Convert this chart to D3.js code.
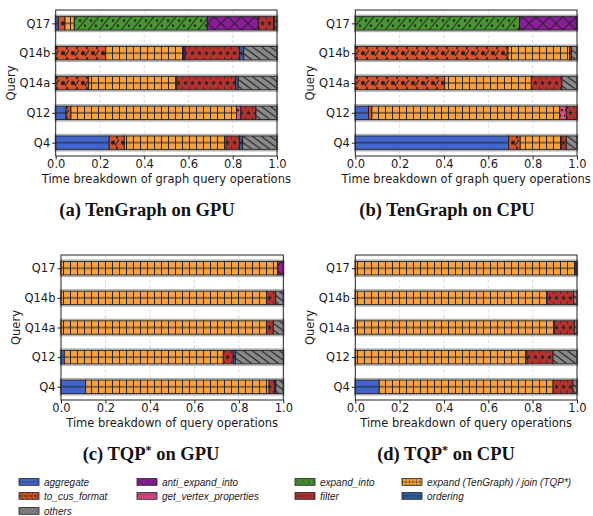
<!DOCTYPE html>
<html>
<head>
<meta charset="utf-8">
<title>Time breakdown</title>
<script src="https://cdn.jsdelivr.net/npm/d3@7"></script>
<style>
  body { margin: 0; background: #fff; }
  svg { display: block; }
</style>
</head>
<body>
<script>
// stacking order of the operations inside each bar
var categories = ['aggregate', 'to_cus_format', 'expand', 'expand_into', 'anti_expand_into',
                  'get_vertex_properties', 'filter', 'ordering', 'others'];
var queries = ['Q4', 'Q12', 'Q14a', 'Q14b', 'Q17'];   // bottom -> top
var xTicks = [0, 0.2, 0.4, 0.6, 0.8, 1.0];

// one row per query, one value per category (fractions)
var tengraphGpu = [
  [0.242, 0.068, 0.460, 0,     0,     0,     0.060, 0.015, 0.155],
  [0.047, 0.022, 0.748, 0,     0,     0.020, 0.068, 0,     0.095],
  [0,     0.149, 0.398, 0,     0,     0,     0.266, 0.012, 0.175],
  [0,     0.226, 0.351, 0,     0.008, 0,     0.246, 0.019, 0.150],
  [0.012, 0.030, 0.042, 0.601, 0.231, 0,     0.068, 0.006, 0.010]
];
var tengraphCpu = [
  [0.692, 0.052, 0.185, 0,     0,     0,     0.023, 0,     0.048],
  [0.060, 0.015, 0.847, 0,     0,     0.030, 0.048, 0,     0],
  [0,     0.403, 0.391, 0,     0,     0,     0.138, 0,     0.068],
  [0,     0.689, 0.278, 0,     0,     0,     0.008, 0,     0.025],
  [0,     0,     0,     0.741, 0.256, 0,     0.003, 0,     0]
];
var tqpGpu = [
  [0.111, 0, 0.825, 0, 0,     0, 0.025, 0.006, 0.033],
  [0.015, 0, 0.715, 0, 0,     0, 0.045, 0.010, 0.215],
  [0,     0, 0.925, 0, 0,     0, 0.030, 0,     0.045],
  [0,     0, 0.925, 0, 0,     0, 0.041, 0,     0.034],
  [0,     0, 0.975, 0, 0.025, 0, 0,     0,     0]
];
var tqpCpu = [
  [0.108, 0, 0.784, 0, 0,     0, 0.090, 0, 0.018],
  [0,     0, 0.774, 0, 0,     0, 0.118, 0, 0.108],
  [0,     0, 0.898, 0, 0,     0, 0.090, 0, 0.012],
  [0,     0, 0.865, 0, 0,     0, 0.120, 0, 0.015],
  [0,     0, 0.995, 0, 0.005, 0, 0,     0, 0]
];

var legendLabels = {
  aggregate: 'aggregate', to_cus_format: 'to_cus_format', others: 'others',
  anti_expand_into: 'anti_expand_into', get_vertex_properties: 'get_vertex_properties',
  expand_into: 'expand_into', filter: 'filter',
  expand: 'expand (TenGraph) / join (TQP*)', ordering: 'ordering'
};
// legend columns as they appear (column-major)
var legendColumns = [
  ['aggregate', 'to_cus_format', 'others'],
  ['anti_expand_into', 'get_vertex_properties'],
  ['expand_into', 'filter'],
  ['expand', 'ordering']
];

var colors = {
  aggregate: '#4066cc', to_cus_format: '#d9542a', expand: '#f5a33a',
  expand_into: '#47972f', anti_expand_into: '#8e1c9c', get_vertex_properties: '#d94f8c',
  filter: '#b3322d', ordering: '#2f5d9e', others: '#8a8a8a'
};

var W = 593, H = 516;
var svg = d3.select('body').append('svg').attr('width', W).attr('height', H);
var defs = svg.append('defs');

var barUnits = 0.45;
var bh = 13.4;     // bar height in px (both rows of panels are about the same)
var hatch = '#222';

function starPath(cx, cy, r1, r2) {
  var pts = [];
  for (var i = 0; i < 10; i++) {
    var a = -Math.PI / 2 + i * Math.PI / 5;
    var r = i % 2 === 0 ? r1 : r2;
    pts.push([cx + r * Math.cos(a), cy + r * Math.sin(a)]);
  }
  return 'M' + pts.join('L') + 'Z';
}

/* hatch patterns, one per category */
function pattern(name, w, draw) {
  var p = defs.append('pattern')
    .attr('id', 'pat-' + name)
    .attr('patternUnits', 'userSpaceOnUse')
    .attr('width', w).attr('height', bh);
  p.append('rect').attr('width', w).attr('height', bh).attr('fill', colors[name]);
  var g = p.append('g').attr('stroke', hatch).attr('stroke-width', 1).attr('fill', 'none');
  draw(g, w);
}

pattern('aggregate', 10, function(g, w) {
  g.append('line').attr('x1', 0).attr('x2', w).attr('y1', bh / 2).attr('y2', bh / 2);
});
pattern('to_cus_format', 10, function(g, w) {
  g.append('circle').attr('cx', 3).attr('cy', bh / 2).attr('r', 1.6).attr('fill', hatch);
  g.append('line').attr('x1', 5).attr('y1', bh / 2 + 3).attr('x2', 9).attr('y2', bh / 2 - 3);
  g.append('circle').attr('cx', 7).attr('cy', 1.5).attr('r', 0.7).attr('fill', hatch);
  g.append('circle').attr('cx', 7).attr('cy', bh - 1.5).attr('r', 0.7).attr('fill', hatch);
});
pattern('expand', 7, function(g, w) {
  g.append('line').attr('x1', 0.5).attr('x2', 0.5).attr('y1', 0).attr('y2', bh);
  g.append('line').attr('x1', 0).attr('x2', w).attr('y1', bh / 2).attr('y2', bh / 2);
});
pattern('expand_into', 11, function(g, w) {
  g.append('line').attr('x1', 0).attr('y1', bh).attr('x2', w).attr('y2', 0);
  g.append('circle').attr('cx', 8).attr('cy', bh * 0.68).attr('r', 0.8).attr('fill', hatch);
  g.append('circle').attr('cx', 3).attr('cy', bh * 0.3).attr('r', 0.8).attr('fill', hatch);
});
pattern('anti_expand_into', bh, function(g, w) {
  g.append('line').attr('x1', 0).attr('y1', 0).attr('x2', w).attr('y2', bh);
  g.append('line').attr('x1', 0).attr('y1', bh).attr('x2', w).attr('y2', 0);
});
pattern('get_vertex_properties', 4, function(g, w) {
  g.append('circle').attr('cx', 2).attr('cy', bh * 0.3).attr('r', 0.7).attr('fill', hatch);
  g.append('circle').attr('cx', 0).attr('cy', bh * 0.7).attr('r', 0.7).attr('fill', hatch);
});
pattern('filter', 7, function(g, w) {
  g.append('path').attr('d', starPath(3.5, bh / 2, 2.7, 1.1)).attr('fill', hatch).attr('stroke', 'none');
  g.append('circle').attr('cx', 0).attr('cy', 1.5).attr('r', 0.6).attr('fill', hatch);
  g.append('circle').attr('cx', 0).attr('cy', bh - 1.5).attr('r', 0.6).attr('fill', hatch);
});
pattern('ordering', 7, function(g, w) {
  g.append('path').attr('d', starPath(3.5, bh / 2, 2.7, 1.1)).attr('fill', hatch).attr('stroke', 'none');
});
pattern('others', 9, function(g, w) {
  g.append('line').attr('x1', 0).attr('y1', 0).attr('x2', 2 * w).attr('y2', bh);
  g.append('line').attr('x1', -w).attr('y1', 0).attr('x2', w).attr('y2', bh);
});

/* panels */
var panels = [
  { data: tengraphGpu, left: 55.7, right: 277, top: 10, bottom: 156,
    xlabel: 'Time breakdown of graph query operations', caption: '(a) TenGraph on GPU', cx: 147, cy: 216 },
  { data: tengraphCpu, left: 355.3, right: 577, top: 10, bottom: 156,
    xlabel: 'Time breakdown of graph query operations', caption: '(b) TenGraph on CPU', cx: 447, cy: 216 },
  { data: tqpGpu, left: 61, right: 283.3, top: 255, bottom: 400,
    xlabel: 'Time breakdown of query operations', caption: '(c) TQP', cx: 151, cy: 460 },
  { data: tqpCpu, left: 355.3, right: 577, top: 255, bottom: 400,
    xlabel: 'Time breakdown of query operations', caption: '(d) TQP', cx: 446, cy: 460 }
];

var tickFont = '"DejaVu Sans", sans-serif';

panels.forEach(function(p) {
  var x = d3.scaleLinear().domain([0, 1]).range([p.left, p.right]);
  var pad = barUnits / 2 + 0.05 * (queries.length - 1 + barUnits);
  var y = d3.scaleLinear().domain([-pad, queries.length - 1 + pad]).range([p.bottom, p.top]);
  var g = svg.append('g');

  // dashed grid
  g.selectAll('.grid').data(xTicks.slice(1, -1)).enter().append('line')
    .attr('x1', function(d) { return x(d); }).attr('x2', function(d) { return x(d); })
    .attr('y1', p.top).attr('y2', p.bottom)
    .attr('stroke', '#d4d4d4').attr('stroke-width', 0.8).attr('stroke-dasharray', '3,2');

  // bars
  queries.forEach(function(q, qi) {
    var row = p.data[qi];
    var segs = [];
    var acc = 0;
    row.forEach(function(v, ci) {
      if (v > 0) segs.push({ cat: categories[ci], x0: acc, x1: acc + v });
      acc += v;
    });
    var bar = g.append('g').attr('transform', 'translate(0,' + (y(qi) - bh / 2) + ')');
    bar.append('rect')
      .attr('x', x(0) - 0.5).attr('y', -1.3)
      .attr('width', x(acc) - x(0) + 1).attr('height', bh + 2.6)
      .attr('fill', 'none').attr('stroke', '#b0b0b0').attr('stroke-width', 1.6);
    bar.selectAll('rect.seg').data(segs).enter().append('rect')
      .attr('class', 'seg')
      .attr('x', function(d) { return x(d.x0); })
      .attr('width', function(d) { return x(d.x1) - x(d.x0); })
      .attr('y', 0).attr('height', bh)
      .attr('fill', function(d) { return 'url(#pat-' + d.cat + ')'; })
      .attr('stroke', '#1e1e1e').attr('stroke-width', 0.9);
  });

  // axes
  var xa = g.append('g').attr('transform', 'translate(0,' + p.bottom + ')')
    .call(d3.axisBottom(x).tickValues(xTicks).tickFormat(d3.format('.1f'))
      .tickSize(3.5).tickSizeOuter(0).tickPadding(0.5));
  var ya = g.append('g').attr('transform', 'translate(' + p.left + ',0)')
    .call(d3.axisLeft(y).tickValues(d3.range(queries.length))
      .tickFormat(function(i) { return queries[i]; })
      .tickSize(3.5).tickSizeOuter(0).tickPadding(2));
  [xa, ya].forEach(function(a) {
    a.select('.domain').remove();
    a.selectAll('text').attr('font-family', tickFont).attr('font-size', '11.5px').attr('fill', '#1a1a1a');
    a.selectAll('line').attr('stroke', '#222');
  });

  g.append('rect')
    .attr('x', p.left).attr('y', p.top)
    .attr('width', p.right - p.left).attr('height', p.bottom - p.top)
    .attr('fill', 'none').attr('stroke', '#222').attr('stroke-width', 1);

  g.append('text')
    .attr('x', (p.left + p.right) / 2).attr('y', p.bottom + 26.8)
    .attr('text-anchor', 'middle')
    .attr('font-family', tickFont).attr('font-size', '11.5px').attr('fill', '#1a1a1a')
    .text(p.xlabel);

  g.append('text')
    .attr('transform', 'translate(' + (p.left - 41) + ',' + (p.top + p.bottom) / 2 + ') rotate(-90)')
    .attr('text-anchor', 'middle')
    .attr('font-family', tickFont).attr('font-size', '11.5px').attr('fill', '#1a1a1a')
    .text('Query');

  // caption
  var cap = svg.append('text')
    .attr('x', p.cx).attr('y', p.cy)
    .attr('text-anchor', 'middle')
    .attr('font-family', '"Liberation Serif", serif').attr('font-weight', 'bold')
    .attr('font-size', '18.5px').attr('fill', '#111');
  if (p.caption.indexOf('TQP') >= 0) {
    cap.append('tspan').text(p.caption);
    cap.append('tspan').attr('dy', -6).attr('font-size', '12px').text('*');
    cap.append('tspan').attr('dy', 6).text(' on ' + (p.data === tqpGpu ? 'GPU' : 'CPU'));
  } else {
    cap.text(p.caption);
  }
});

/* legend */
var legendX = [19, 137, 295, 402];
var legendY = [482, 496, 511];
legendColumns.forEach(function(col, ci) {
  col.forEach(function(name, ri) {
    var lg = svg.append('g').attr('transform', 'translate(' + legendX[ci] + ',' + (legendY[ri] - 3.4) + ')');
    lg.append('g').attr('transform', 'scale(0.5)')
      .append('rect').attr('width', 40).attr('height', bh)
      .attr('fill', 'url(#pat-' + name + ')')
      .attr('stroke', '#1e1e1e').attr('stroke-width', 1.6);
    lg.append('text')
      .attr('x', 25).attr('y', 3.4).attr('dy', '0.35em')
      .attr('font-family', '"Liberation Sans", Arial, sans-serif')
      .attr('font-style', 'italic').attr('font-size', '10px').attr('fill', '#222')
      .text(legendLabels[name]);
  });
});
</script>
</body>
</html>
